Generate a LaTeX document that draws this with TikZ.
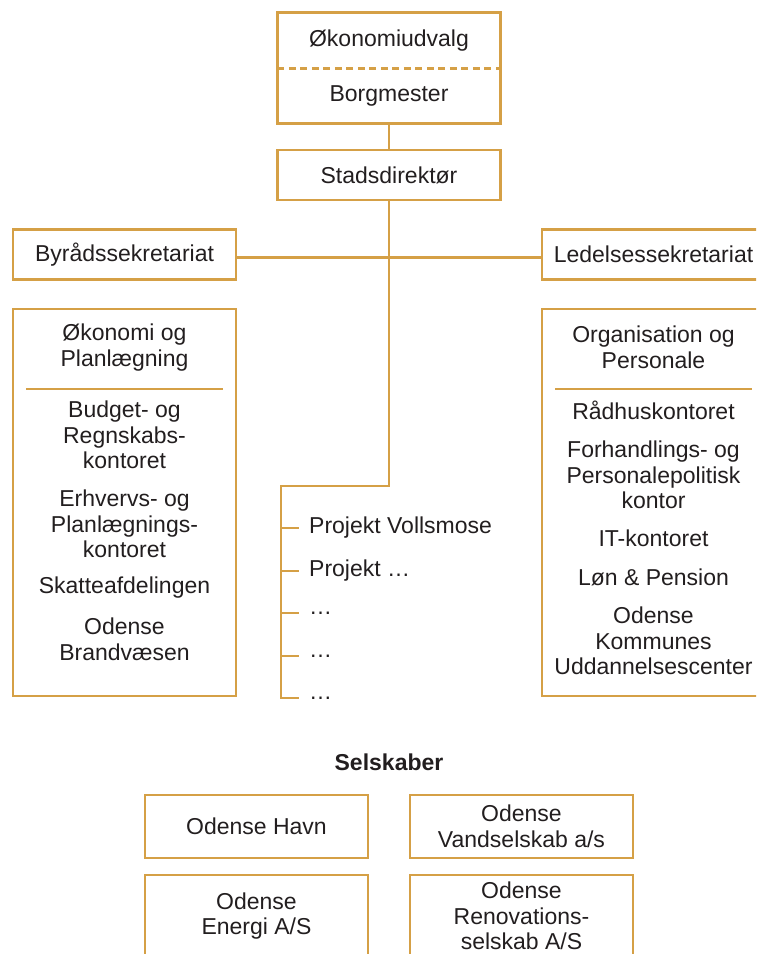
\documentclass[tikz,border=0pt]{standalone}
\usepackage{fontspec}
\setmainfont{Liberation Sans}
\usepackage{tikz}
\definecolor{gold}{RGB}{213,160,70}
\definecolor{ink}{RGB}{34,30,31}
\tikzstyle{block} = [align=center,draw=gold,line width=2.8pt,rectangle,minimum width=223pt,minimum height=50pt,inner sep=0pt]
\tikzstyle{cell} = [align=center,rectangle,minimum width=223pt,minimum height=55pt,inner sep=0pt]
\tikzstyle{data} = [align=center,inner sep=0pt]
\tikzstyle{item} = [anchor=west,inner sep=0pt]
\tikzstyle{link} = [draw=gold,line width=2.8pt]

\begin{document}
\begin{tikzpicture}[x=1pt,y=-1pt,every node/.style={text=ink,font=\fontsize{23}{25.5}\selectfont}]
				\clip (0,0) rectangle (756,954);
				% top
				\node (oek) [cell] at (389,40.5) {Økonomiudvalg};
				\node (borg) [cell] at (389,95.5) {Borgmester};
				\draw [link] (oek.north west) rectangle (borg.south east);
				\draw [link,dash pattern=on 7pt off 4.5pt] (oek.south west) -- (oek.south east);
				\node (stad) [block] at (389,175) {Stadsdirektør};
				\node (byr) [block] at (124.5,254.5) {Byrådssekretariat};
				\node (led) [block] at (653.5,254.5) {Ledelsessekretariat};
				\draw [link] (borg.south) -- (stad.north);
				\draw [link] ([yshift=-3pt]byr.east) -- ([yshift=-3pt]led.west);
				% departments
				\node (ldept) [block,minimum height=387pt] at (124.5,502.5) {};
				\node (rdept) [block,minimum height=387pt] at (653.5,502.5) {};
				\draw [link] (26,389) -- (223,389);
				\draw [link] (555,389) -- (752,389);
				\node (l1) [data] at (124.5,347.5) {Økonomi og\\Planlægning};
				\node (l2) [data] at (124.5,435) {Budget- og\\Regnskabs-\\kontoret};
				\node (l3) [data] at (124.5,524) {Erhvervs- og\\Planlægnings-\\kontoret};
				\node (l4) [data] at (124.5,588) {Skatteafdelingen};
				\node (l5) [data] at (124.5,639.5) {Odense\\Brandvæsen};
				\node (r1) [data] at (653.5,347.5) {Organisation og\\Personale};
				\node (r2) [data] at (653.5,410) {Rådhuskontoret};
				\node (r3) [data] at (653.5,475) {Forhandlings- og\\Personalepolitisk\\kontor};
				\node (r4) [data] at (653.5,538) {IT-kontoret};
				\node (r5) [data] at (653.5,577) {Løn \& Pension};
				\node (r6) [data] at (653.5,641) {Odense\\Kommunes\\Uddannelsescenter};
				% projects
				\coordinate (bend) at (281,486);
				\coordinate (t1) at (281,528);
				\coordinate (t2) at (281,571);
				\coordinate (t3) at (281,613);
				\coordinate (t4) at (281,656);
				\coordinate (t5) at (281,698);
				\node (p1) [item] at (309,528) {Projekt Vollsmose};
				\node (p2) [item] at (309,571) {Projekt …};
				\node (p3) [item] at (309,613) {…};
				\node (p4) [item] at (309,656) {…};
				\node (p5) [item] at (309,698) {…};
				\draw [link] (stad.south) |- (bend) -- (t5) -- ([xshift=-10pt]p5.west);
				\draw [link] (t1) -- ([xshift=-10pt]p1.west);
				\draw [link] (t2) -- ([xshift=-10pt]p2.west);
				\draw [link] (t3) -- ([xshift=-10pt]p3.west);
				\draw [link] (t4) -- ([xshift=-10pt]p4.west);
				% companies
				\node (sel) [data,font=\fontsize{23}{25.5}\selectfont\bfseries] at (389,762) {Selskaber};
				\node (havn) [block,minimum height=63pt] at (256.5,826.5) {Odense Havn};
				\node (vand) [block,minimum height=63pt] at (521.5,826.5) {Odense\\Vandselskab a/s};
				\node (energi) [block,minimum height=82pt] at (256.5,916) {Odense\\Energi A/S};
				\node (renov) [block,minimum height=82pt] at (521.5,916) {Odense\\Renovations-\\selskab A/S};
			\end{tikzpicture}
\end{document}
